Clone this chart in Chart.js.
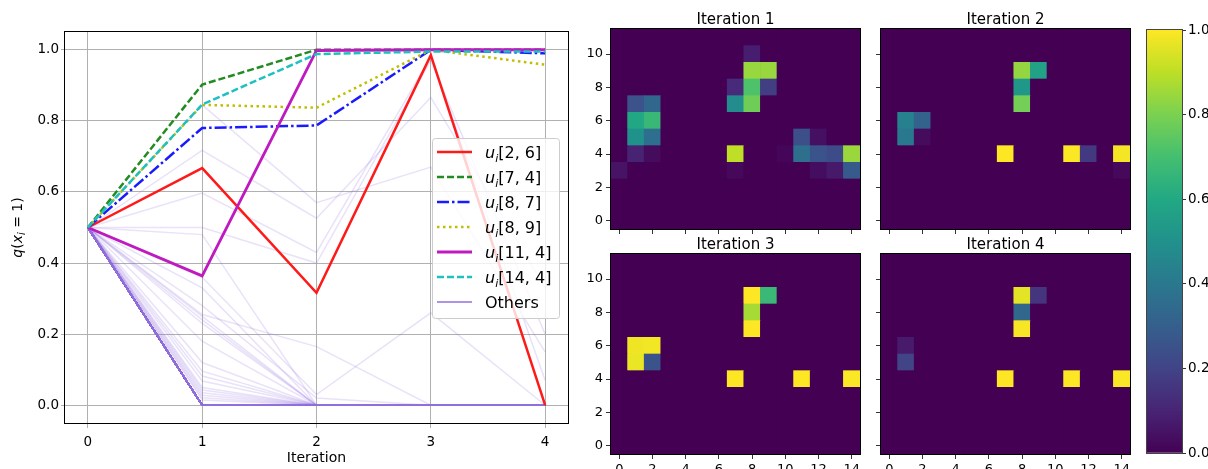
<!DOCTYPE html>
<html>
<head>
<meta charset="utf-8">
<script src="https://cdn.jsdelivr.net/npm/chart.js@4"></script>
<style>
  html, body { margin: 0; padding: 0; background: #fff; }
  body { width: 1208px; height: 469px; position: relative; overflow: hidden; }
  canvas { position: absolute; }
</style>
</head>
<body>
<canvas id="lineChart" width="580" height="469" style="left:0px;top:0px"></canvas>
<canvas id="heat1" width="290" height="240" style="left:580px;top:0px"></canvas>
<canvas id="heat2" width="290" height="240" style="left:850px;top:0px"></canvas>
<canvas id="heat3" width="290" height="250" style="left:580px;top:230px"></canvas>
<canvas id="heat4" width="290" height="250" style="left:850px;top:230px"></canvas>
<canvas id="cbar" width="100" height="469" style="left:1140px;top:0px"></canvas>
<script>
"use strict";

const iterations = [0, 1, 2, 3, 4];
const startValue = 0.5;
const gridCols = 15;
const gridRows = 12;

// non-zero cells [col, row, q] after each iteration, everything else is 0
const cellsIter1 = [
  [0, 3, 0.05],
  [1, 7, 0.25], [2, 7, 0.33],
  [1, 6, 0.597], [2, 6, 0.667],
  [1, 5, 0.5], [2, 5, 0.36],
  [1, 4, 0.096], [2, 4, 0.028],
  [8, 10, 0.082],
  [8, 9, 0.845], [9, 9, 0.845],
  [7, 8, 0.12], [8, 8, 0.717], [9, 8, 0.18],
  [7, 7, 0.48], [8, 7, 0.78],
  [7, 4, 0.902], [7, 3, 0.021],
  [11, 5, 0.24], [12, 5, 0.043],
  [10, 4, 0.015], [11, 4, 0.364], [12, 4, 0.255], [13, 4, 0.23], [14, 4, 0.846],
  [12, 3, 0.035], [13, 3, 0.068], [14, 3, 0.28],
];
const cellsIter2 = [
  [1, 6, 0.43], [2, 6, 0.316], [1, 5, 0.4], [2, 5, 0.03],
  [8, 9, 0.837], [9, 9, 0.57], [8, 8, 0.526], [8, 7, 0.787],
  [7, 4, 1.0], [11, 4, 0.998], [12, 4, 0.165], [14, 4, 0.988], [14, 3, 0.02],
];
const cellsIter3 = [
  [1, 6, 0.98], [2, 6, 0.985], [1, 5, 0.97], [2, 5, 0.26],
  [8, 9, 1.0], [9, 9, 0.67], [8, 8, 0.866], [8, 7, 1.0],
  [7, 4, 1.0], [11, 4, 1.0], [14, 4, 0.995],
];
const cellsIter4 = [
  [1, 6, 0.07], [1, 5, 0.2],
  [8, 9, 0.958], [9, 9, 0.15], [8, 8, 0.33], [8, 7, 0.99],
  [7, 4, 1.0], [11, 4, 1.0], [14, 4, 0.995],
];

const highlighted = [[2, 6], [7, 4], [8, 7], [8, 9], [11, 4], [14, 4]];

const lineXTicks = [0, 1, 2, 3, 4];
const lineYTicks = [0, 0.2, 0.4, 0.6, 0.8, 1.0];
const heatXTicks = [0, 2, 4, 6, 8, 10, 12, 14];
const heatYTicks = [0, 2, 4, 6, 8, 10];
const cbarTicks = [0, 0.2, 0.4, 0.6, 0.8, 1.0];

const cellsByIter = [cellsIter1, cellsIter2, cellsIter3, cellsIter4];

const seriesStyles = [
  { color: "#ff1a1a", dash: [], width: 2.5 },
  { color: "#228b22", dash: [7, 3], width: 2.5 },
  { color: "#1a1aff", dash: [12, 3, 2.5, 3], width: 2.5 },
  { color: "#bfbf00", dash: [2.5, 3.5], width: 2.5 },
  { color: "#bf1abf", dash: [], width: 2.8 },
  { color: "#1fc0c0", dash: [7, 3], width: 2.5 },
];
const othersColor = "rgba(147, 112, 219, 0.2)";
const FONT = '"DejaVu Sans"';

Chart.defaults.font.family = FONT;
Chart.defaults.color = "#000";

const viridisStops = ["#440154", "#482475", "#414487", "#355f8d", "#2a788e", "#21918c",
  "#22a884", "#44bf70", "#7ad151", "#bddf26", "#fde725"];

function hexRgb(h) {
  return [1, 3, 5].map((i) => parseInt(h.slice(i, i + 2), 16));
}

function viridis(v) {
  v = Math.max(0, Math.min(1, v));
  const p = v * 10;
  const i = Math.min(9, Math.floor(p));
  const t = p - i;
  const a = hexRgb(viridisStops[i]);
  const b = hexRgb(viridisStops[i + 1]);
  const c = a.map((x, j) => Math.round(x + (b[j] - x) * t));
  return `rgb(${c[0]}, ${c[1]}, ${c[2]})`;
}

function cellValue(k, col, row) {
  if (k === 0) return startValue;
  const hit = cellsByIter[k - 1].find((c) => c[0] === col && c[1] === row);
  return hit ? hit[2] : 0;
}

function trajectory(col, row) {
  return iterations.map((k) => ({ x: k, y: cellValue(k, col, row) }));
}

// text with italic / subscript pieces (mathtext look)
function drawRich(ctx, parts, x, y, size, align) {
  const fontFor = (p) => `${p[1] ? "italic " : ""}${p[1] === "s" ? size * 0.7 : size}px ${FONT}`;
  let total = 0;
  parts.forEach((p) => { ctx.font = fontFor(p); total += ctx.measureText(p[0]).width; });
  let cx = align === "center" ? x - total / 2 : x;
  ctx.textAlign = "left";
  ctx.textBaseline = "alphabetic";
  parts.forEach((p) => {
    ctx.font = fontFor(p);
    ctx.fillText(p[0], cx, p[1] === "s" ? y + size * 0.22 : y);
    cx += ctx.measureText(p[0]).width;
  });
}

function framePlugin(color) {
  return {
    id: "frame",
    afterDraw(chart) {
      const a = chart.chartArea;
      const c = chart.ctx;
      c.save();
      c.strokeStyle = color;
      c.lineWidth = 1;
      c.setLineDash([]);
      c.strokeRect(Math.round(a.left) - 0.5, Math.round(a.top) - 0.5,
        Math.round(a.right) - Math.round(a.left) + 1, Math.round(a.bottom) - Math.round(a.top) + 1);
      c.restore();
    },
  };
}

// ---------- left line chart ----------
const isHighlighted = (c, r) => highlighted.some((h) => h[0] === c && h[1] === r);
const lineDatasets = [];
highlighted.forEach(([c, r], i) => {
  const s = seriesStyles[i];
  lineDatasets.push({
    label: `u_i[${c}, ${r}]`,
    data: trajectory(c, r),
    borderColor: s.color,
    borderWidth: s.width,
    borderDash: s.dash,
    pointRadius: 0,
    tension: 0,
    order: highlighted.length - i,
  });
});
for (let r = 0; r < gridRows; r++) {
  for (let c = 0; c < gridCols; c++) {
    if (isHighlighted(c, r)) continue;
    lineDatasets.push({
      label: "Others",
      data: trajectory(c, r),
      borderColor: othersColor,
      borderWidth: 1.5,
      pointRadius: 0,
      tension: 0,
      order: 20,
    });
  }
}

const lineDecor = {
  id: "lineDecor",
  afterDraw(chart) {
    const ctx = chart.ctx;
    const a = chart.chartArea;
    ctx.save();
    ctx.fillStyle = "#000";
    // axis labels
    ctx.font = `14px ${FONT}`;
    ctx.textAlign = "center";
    ctx.textBaseline = "alphabetic";
    ctx.fillText("Iteration", (a.left + a.right) / 2, 462);
    ctx.save();
    ctx.translate(17, (a.top + a.bottom) / 2);
    ctx.rotate(-Math.PI / 2);
    drawRich(ctx, [["q", "i"], ["(", ""], ["x", "i"], ["i", "s"], [" = 1)", ""]], 0, 5, 14, "center");
    ctx.restore();

    // legend
    const box = { x: 432, y: 138, w: 127, h: 180 };
    ctx.beginPath();
    ctx.roundRect(box.x + 0.5, box.y + 0.5, box.w, box.h, 3);
    ctx.fillStyle = "rgba(255, 255, 255, 0.8)";
    ctx.fill();
    ctx.strokeStyle = "#cccccc";
    ctx.lineWidth = 1;
    ctx.stroke();
    const rowH = 25;
    const entries = highlighted.map(([c, r], i) => ({
      parts: [["u", "i"], ["i", "s"], [`[${c}, ${r}]`, ""]],
      style: seriesStyles[i],
    }));
    entries.push({ parts: [["Others", ""]], style: { color: "#9370db", dash: [], width: 1.6 } });
    entries.forEach((e, i) => {
      const cy = 152 + i * rowH;
      ctx.beginPath();
      ctx.strokeStyle = e.style.color;
      ctx.lineWidth = e.style.width;
      ctx.setLineDash(e.style.dash);
      ctx.moveTo(437, cy);
      ctx.lineTo(472, cy);
      ctx.stroke();
      ctx.setLineDash([]);
      ctx.fillStyle = "#000";
      drawRich(ctx, e.parts, 485, cy + 6, 16, "left");
    });
    ctx.restore();
  },
};

new Chart(document.getElementById("lineChart"), {
  type: "line",
  data: { datasets: lineDatasets },
  options: {
    responsive: false,
    animation: false,
    devicePixelRatio: 1,
    layout: { padding: { left: 0, top: 32, right: 12, bottom: 0 } },
    plugins: { legend: { display: false }, tooltip: { enabled: false } },
    scales: {
      x: {
        type: "linear",
        min: -0.2,
        max: 4.2,
        afterBuildTicks: (s) => { s.ticks = lineXTicks.map((v) => ({ value: v })); },
        afterFit: (s) => { s.height = 46; },
        ticks: { font: { size: 13.5 }, padding: 6, maxRotation: 0 },
        grid: { color: "#b0b0b0", tickLength: 5, tickColor: "#b0b0b0" },
        border: { display: false },
      },
      y: {
        min: -0.05,
        max: 1.05,
        afterBuildTicks: (s) => { s.ticks = lineYTicks.map((v) => ({ value: v })); },
        afterFit: (s) => { s.width = 65; },
        ticks: { font: { size: 13.5 }, padding: 2, callback: (v) => Number(v).toFixed(1) },
        grid: { color: "#b0b0b0", tickLength: 4, tickColor: "#b0b0b0" },
        border: { display: false },
      },
    },
  },
  plugins: [framePlugin("#000"), lineDecor],
});

// ---------- heatmaps ----------
const heatBackground = {
  id: "heatBg",
  beforeDatasetsDraw(chart) {
    const a = chart.chartArea;
    chart.ctx.save();
    chart.ctx.fillStyle = viridis(0);
    chart.ctx.fillRect(a.left, a.top, a.right - a.left, a.bottom - a.top);
    chart.ctx.restore();
  },
};

function titlePlugin(text) {
  return {
    id: "panelTitle",
    afterDraw(chart) {
      const a = chart.chartArea;
      const ctx = chart.ctx;
      ctx.save();
      ctx.fillStyle = "#000";
      ctx.font = `15px ${FONT}`;
      ctx.textAlign = "center";
      ctx.textBaseline = "alphabetic";
      ctx.fillText(text, (a.left + a.right) / 2, a.top - 5);
      ctx.restore();
    },
  };
}

function heatmap(id, k, showX, showY, topPad, xHeight) {
  const cols = Array.from({ length: gridCols }, (_, c) => c);
  const rows = Array.from({ length: gridRows }, (_, r) => r);
  new Chart(document.getElementById(id), {
    type: "bar",
    data: {
      labels: cols.map(String),
      datasets: rows.map((r) => ({
        data: cols.map(() => [r - 0.5, r + 0.5]),
        backgroundColor: cols.map((c) => viridis(cellValue(k, c, r))),
        borderWidth: 0,
        barPercentage: 1,
        categoryPercentage: 1,
        grouped: false,
      })),
    },
    options: {
      responsive: false,
      animation: false,
      devicePixelRatio: 1,
      layout: { padding: { left: 0, top: topPad, right: 10, bottom: 0 } },
      plugins: { legend: { display: false }, tooltip: { enabled: false } },
      scales: {
        x: {
          offset: true,
          afterBuildTicks: (s) => { s.ticks = heatXTicks.map((v) => ({ value: v })); },
          afterFit: (s) => { s.height = xHeight; },
          ticks: {
            autoSkip: false,
            maxRotation: 0,
            padding: 3,
            font: { size: 13 },
            callback: (v) => (showX ? String(v) : ""),
          },
          grid: { offset: false, drawOnChartArea: false, tickLength: 5, tickColor: "#333" },
          border: { display: false },
        },
        y: {
          min: -0.5,
          max: 11.5,
          afterBuildTicks: (s) => { s.ticks = heatYTicks.map((v) => ({ value: v })); },
          afterFit: (s) => { s.width = 31; },
          ticks: { padding: 3, font: { size: 13 }, callback: (v) => (showY ? String(v) : "") },
          grid: { drawOnChartArea: false, tickLength: 5, tickColor: "#333" },
          border: { display: false },
        },
      },
    },
    plugins: [heatBackground, framePlugin("#000"), titlePlugin("Iteration " + k)],
  });
}

heatmap("heat1", 1, false, true, 29, 11);
heatmap("heat2", 2, false, false, 29, 11);
heatmap("heat3", 3, true, true, 24, 26);
heatmap("heat4", 4, true, false, 24, 26);

// ---------- colorbar ----------
new Chart(document.getElementById("cbar"), {
  type: "bar",
  data: {
    labels: [""],
    datasets: [{
      data: [[cbarTicks[0], cbarTicks[cbarTicks.length - 1]]],
      backgroundColor: (c) => {
        const ch = c.chart;
        if (!ch.chartArea) return viridis(0.5);
        const y = ch.scales.y;
        const g = ch.ctx.createLinearGradient(0, y.getPixelForValue(0), 0, y.getPixelForValue(1));
        viridisStops.forEach((s, i) => g.addColorStop(i / (viridisStops.length - 1), s));
        return g;
      },
      borderWidth: 0,
      barPercentage: 1,
      categoryPercentage: 1,
    }],
  },
  options: {
    responsive: false,
    animation: false,
    devicePixelRatio: 1,
    layout: { padding: { left: 7, top: 30, right: 0, bottom: 16 } },
    plugins: { legend: { display: false }, tooltip: { enabled: false } },
    scales: {
      x: { display: false },
      y: {
        position: "right",
        min: 0,
        max: 1,
        afterBuildTicks: (s) => { s.ticks = cbarTicks.map((v) => ({ value: v })); },
        afterFit: (s) => { s.width = 58; },
        ticks: { padding: 2, font: { size: 13.5 }, callback: (v) => Number(v).toFixed(1) },
        grid: { drawOnChartArea: false, tickLength: 4, tickColor: "#333" },
        border: { display: false },
      },
    },
  },
  plugins: [framePlugin("#444")],
});
</script>
</body>
</html>
